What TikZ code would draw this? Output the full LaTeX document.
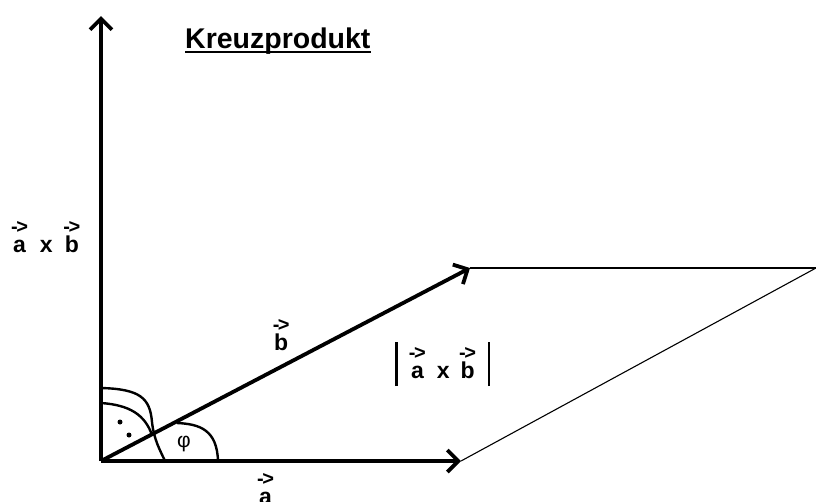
\documentclass[tikz,border=0pt]{standalone}
\usepackage{fontspec}
\setmainfont{Liberation Sans}
\usetikzlibrary{arrows.meta}
\newcommand\vv[1]{\sbox0{#1}\makebox[\wd0]{\raisebox{18.5pt}[0pt][0pt]{\fontsize{20}{20}\selectfont -\kern-1.5pt>}}\kern-\wd0\usebox0}
\begin{document}
\begin{tikzpicture}[x=1pt,y=-1pt,
  vec/.style={line width=3.8pt, -{Straight Barb[length=11pt,width=22pt]}},
  thinline/.style={line width=1.1pt},
  arcline/.style={line width=2.4pt},
  lbl/.style={font=\bfseries\fontsize{23}{23}\selectfont, inner sep=0pt, anchor=base west}]
\useasboundingbox (0,0) rectangle (816,501);
\fill[white] (0,0) rectangle (816,501);
\coordinate (O) at (101,461);
\coordinate (Z) at (101,16);
\coordinate (A) at (461,461);
\coordinate (B) at (470,268);
\coordinate (C) at (816,268);
\draw[thinline] (B) -- (C);
\draw[thinline] (A) -- (C);
\draw[vec] (O) -- (Z);
\draw[vec] (O) -- (A);
\draw[vec] (O) -- (B);
% angle marks
\draw[arcline] (101,388) .. controls (140,389) and (150,398) .. (152,422) .. controls (154,440) and (160,450) .. (165,461);
\draw[arcline] (101,403) .. controls (130,405) and (145,415) .. (152,435);
\draw[arcline] (177,423) .. controls (200,424) and (217,430) .. (218,461);
\fill (120,422) circle (2.5pt);
\fill (129,435) circle (2.5pt);
\node[font=\fontsize{21}{21}\selectfont, inner sep=0pt] (phi) at (184,444) {φ};
% labels
\node[lbl] (axb) at (13,252) {\vv{a}\hspace{14pt}x\hspace{12pt}\vv{b}};
\node[lbl] (bl) at (274,350) {\vv{b}};
\node[lbl] (al) at (259,504) {\vv{a}};
\node[lbl] (abs) at (395,378) {\rule[-8pt]{2.8pt}{44pt}\hspace{13pt}\vv{a}\hspace{13pt}x\hspace{11pt}\vv{b}\hspace{13pt}\rule[-8pt]{2.8pt}{44pt}};
\node[lbl, font=\bfseries\fontsize{28.5}{28.5}\selectfont] (title) at (185,48) {Kreuzprodukt};
\draw[line width=2.2pt] ([yshift=-4pt]title.base west) -- ([yshift=-4pt]title.base east);
\end{tikzpicture}
\end{document}
